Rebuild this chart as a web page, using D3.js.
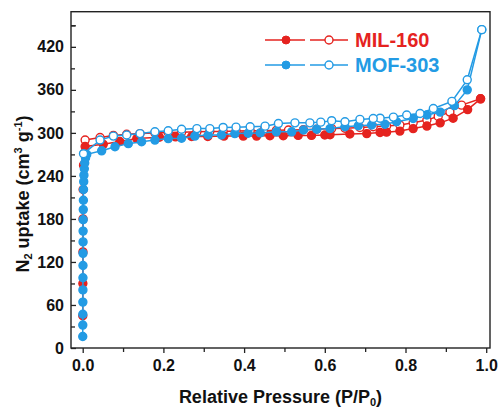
<!DOCTYPE html>
<html><head><meta charset="utf-8">
<script src="https://cdn.jsdelivr.net/npm/d3@7"></script>
<style>body{margin:0;background:#fff}svg{display:block}</style>
</head><body>
<svg id="c" width="500" height="408"></svg>
<script>
// MIL-160 adsorption (filled)
const milAdsP = [0.0002,0.0004,0.0006,0.0008,0.001,0.002,0.004,0.006,0.051,0.092,0.134,0.19,0.23,0.27,0.31,0.35,0.398,0.431,0.464,0.497,0.534,0.567,0.6,0.613,0.662,0.704,0.737,0.753,0.786,0.819,0.853,0.886,0.918,0.954,0.986];
const milAdsV = [45,90,134,180,221,255,272,281,284,288,292,294,294.5,295,295,295.5,295.5,295.5,296,296,296.5,296.5,297,297.5,298.5,299,300.5,301,302.5,306,309.5,314,320.5,332.5,347.5];
// MIL-160 desorption (open)
const milDesP = [0.986,0.939,0.91,0.881,0.853,0.819,0.786,0.753,0.72,0.687,0.65,0.617,0.58,0.547,0.51,0.48,0.448,0.415,0.38,0.348,0.315,0.283,0.245,0.212,0.179,0.142,0.109,0.076,0.043,0.006];
const milDesV = [347.5,338.7,329,323,318,314,311,309.5,308.5,307.5,306.5,306,305,304.5,304,303.5,303,303,302.5,302,302,301.5,301,300.5,300,299,298,296.5,293.6,290];
// MOF-303 adsorption (filled)
const mofAdsP = [0.0001,0.0002,0.0003,0.0004,0.0005,0.0006,0.0007,0.0008,0.0009,0.001,0.0012,0.0014,0.0017,0.002,0.0025,0.003,0.004,0.005,0.007,0.01,0.047,0.08,0.113,0.146,0.179,0.212,0.245,0.278,0.311,0.344,0.377,0.41,0.44,0.48,0.518,0.547,0.58,0.613,0.65,0.683,0.716,0.749,0.778,0.819,0.853,0.886,0.921,0.953,0.989];
const mofAdsV = [16,32,47,64,81,98,115,132,148,163,179,193,206,221,232,241,250,258,265,270,275,280.6,285,287.6,290,292,292.5,295.5,297,297,299,299.5,300,301.5,301.5,304,305,306,308.5,310,311,312,315.5,320,325,329,338,360,444];
// MOF-303 desorption (open)
const mofDesP = [0.989,0.953,0.915,0.869,0.836,0.803,0.77,0.737,0.72,0.687,0.65,0.617,0.59,0.563,0.526,0.485,0.452,0.415,0.38,0.348,0.315,0.283,0.245,0.212,0.179,0.142,0.109,0.076,0.043,0.002];
const mofDesV = [444,374,344,334,327,325,322,320.5,320,318.8,315.5,317,315,314,314,313,309.4,308.5,308,307.6,306,306,305,303,301.5,299,297,295.5,290,271];

const xTicks = [0,0.2,0.4,0.6,0.8,1.0];
const yTicks = [0,60,120,180,240,300,360,420];
const seriesNames = ["MIL-160","MOF-303"];
const RED = "#e5231f", BLUE = "#239be4";

const svg = d3.select("#c");
const L = 71, R = 490, T = 11.7, B = 348;
const x = d3.scaleLinear().domain([-0.029, 1.0094]).range([L, R]);
const y = d3.scaleLinear().domain([0, 469]).range([B, T]);

const font = "'Liberation Sans', Arial, sans-serif";

// frame
svg.append("rect").attr("x", L).attr("y", T).attr("width", R - L).attr("height", B - T)
  .attr("fill", "none").attr("stroke", "#222").attr("stroke-width", 1.4);

// x axis
const xAx = svg.append("g").attr("transform", `translate(0,${B})`)
  .call(d3.axisBottom(x).tickValues(xTicks).tickFormat(d3.format(".1f")).tickSize(5).tickPadding(7));
xAx.select(".domain").remove();
svg.append("g").attr("transform", `translate(0,${B})`)
  .call(d3.axisBottom(x).tickValues(d3.range(0.1, 1.0, 0.2)).tickFormat("").tickSize(4))
  .select(".domain").remove();
// y axis (inward ticks)
const yAx = svg.append("g").attr("transform", `translate(${L},0)`)
  .call(d3.axisLeft(y).tickValues(yTicks).tickSize(0).tickPadding(7));
yAx.select(".domain").remove();
svg.append("g").attr("transform", `translate(${L},0)`)
  .call(d3.axisRight(y).tickValues(yTicks.concat([450])).tickFormat("").tickSize(5))
  .select(".domain").remove();
svg.append("g").attr("transform", `translate(${L},0)`)
  .call(d3.axisRight(y).tickValues(d3.range(30, 460, 60)).tickFormat("").tickSize(4))
  .select(".domain").remove();
svg.selectAll(".tick line").attr("stroke", "#222").attr("stroke-width", 1.3);
svg.selectAll(".tick text").attr("font-family", font).attr("font-weight", "bold")
  .attr("font-size", 16).attr("fill", "#111");

// axis titles
const xt = svg.append("text").attr("x", (L + R) / 2).attr("y", 403).attr("text-anchor", "middle")
  .attr("font-family", font).attr("font-weight", "bold").attr("font-size", 18).attr("fill", "#111");
xt.append("tspan").text("Relative Pressure (P/P");
xt.append("tspan").attr("font-size", 11).attr("dy", 3).text("0");
xt.append("tspan").attr("dy", -3).text(")");

const yt = svg.append("text").attr("transform", "translate(29,194) rotate(-90)").attr("text-anchor", "middle")
  .attr("font-family", font).attr("font-weight", "bold").attr("font-size", 18).attr("fill", "#111");
yt.append("tspan").text("N");
yt.append("tspan").attr("font-size", 11).attr("dy", 3).text("2");
yt.append("tspan").attr("dy", -3).text(" uptake (cm");
yt.append("tspan").attr("font-size", 11).attr("dy", -7).text("3");
yt.append("tspan").attr("dy", 7).text(" g");
yt.append("tspan").attr("font-size", 11).attr("dy", -7).text("-1");
yt.append("tspan").attr("dy", 7).text(")");

// series
const line = d3.line().x(d => x(d[0])).y(d => y(d[1]));
function draw(P, V, color, open) {
  const pts = P.map((p, i) => [p, V[i]]);
  svg.append("path").datum(pts).attr("d", line).attr("fill", "none")
    .attr("stroke", color).attr("stroke-width", 1.5);
  svg.append("g").selectAll("circle").data(pts).join("circle")
    .attr("cx", d => x(d[0])).attr("cy", d => y(d[1])).attr("r", 4)
    .attr("fill", open ? "#fff" : color).attr("stroke", color).attr("stroke-width", 1.4);
}
draw(milDesP, milDesV, RED, true);
draw(milAdsP, milAdsV, RED, false);
draw(mofAdsP, mofAdsV, BLUE, false);
draw(mofDesP, mofDesV, BLUE, true);

// legend
[[RED, 40, seriesNames[0]], [BLUE, 65, seriesNames[1]]].forEach(([c, ly, name]) => {
  const g = svg.append("g");
  g.append("line").attr("x1", 265).attr("x2", 305).attr("y1", ly).attr("y2", ly).attr("stroke", c).attr("stroke-width", 1.5);
  g.append("line").attr("x1", 310).attr("x2", 348).attr("y1", ly).attr("y2", ly).attr("stroke", c).attr("stroke-width", 1.5);
  g.append("circle").attr("cx", 286).attr("cy", ly).attr("r", 4).attr("fill", c).attr("stroke", c);
  g.append("circle").attr("cx", 329).attr("cy", ly).attr("r", 4).attr("fill", "#fff").attr("stroke", c).attr("stroke-width", 1.4);
  g.append("text").attr("x", 355).attr("y", ly + 7).attr("font-family", font).attr("font-weight", "bold")
    .attr("font-size", 20).attr("fill", c).text(name);
});
</script>
</body></html>
